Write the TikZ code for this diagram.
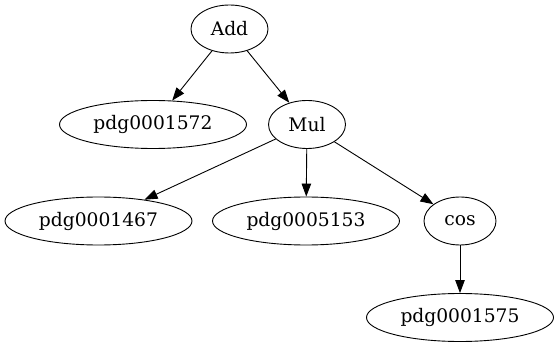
\documentclass[tikz,border=0pt]{standalone}
\usepackage{fontspec}
\setmainfont{DejaVu Serif}
\usetikzlibrary{shapes.geometric,arrows.meta}
\begin{document}
\begin{tikzpicture}[x=1pt,y=-1pt,
  nd/.style={ellipse,draw,line width=0.9pt,inner sep=0pt,minimum height=48pt,font=\fontsize{18.67}{22}\selectfont},
  sm/.style={nd,minimum width=77pt},
  lg/.style={nd,minimum width=187pt},
  edge/.style={line width=0.9pt,-{Triangle[length=13pt,width=9.5pt]}}]
\useasboundingbox (0,0) rectangle (559,347);
\node[sm] (add) at (229.5,29) {Add};
\node[lg] (p1572) at (153,124.5) {pdg0001572};
\node[sm] (mul) at (307,124.5) {Mul};
\node[lg] (p1467) at (98.5,221) {pdg0001467};
\node[lg] (p5153) at (306,221) {pdg0005153};
\node[nd,minimum width=72pt] (cos) at (460,221) {cos};
\node[lg] (p1575) at (460,317.5) {pdg0001575};
\draw[edge] (add) -- (p1572);
\draw[edge] (add) -- (mul);
\draw[edge] (mul) -- (p1467);
\draw[edge] (mul) -- (p5153);
\draw[edge] (mul) -- (cos);
\draw[edge] (cos) -- (p1575);
\end{tikzpicture}
\end{document}
